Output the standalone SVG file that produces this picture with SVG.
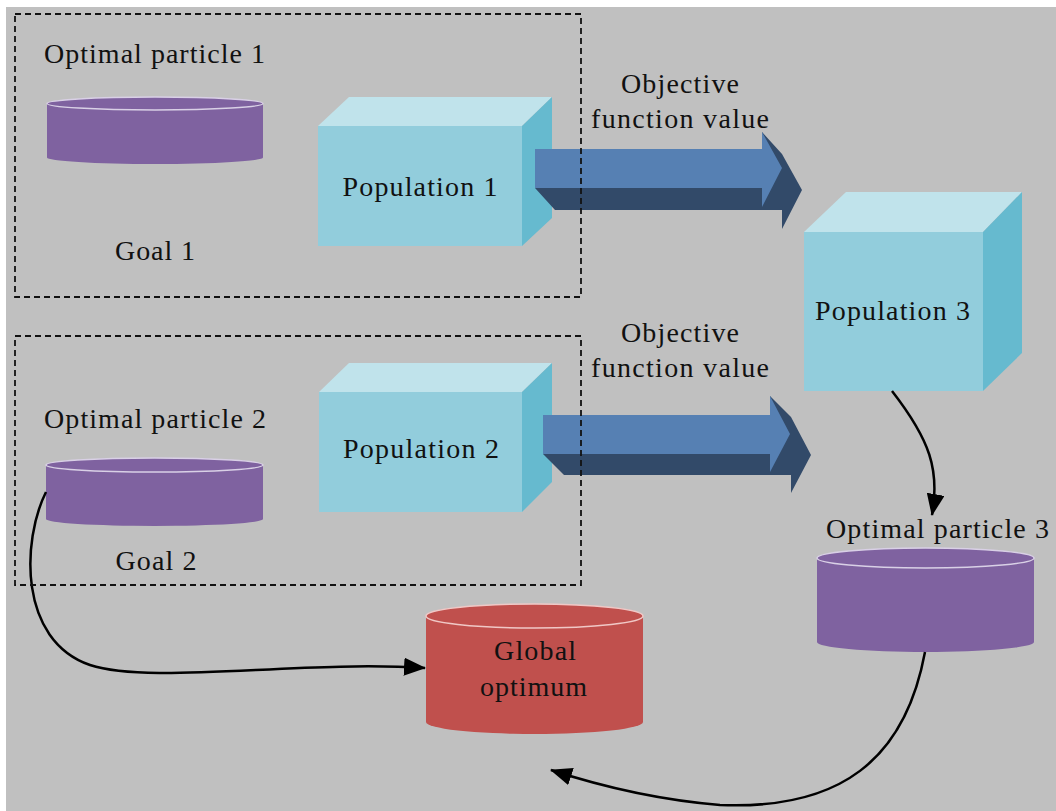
<svg xmlns="http://www.w3.org/2000/svg" width="1056" height="811" viewBox="0 0 1056 811">
<defs>
<style>
.t{font-family:"Liberation Serif","Times New Roman",serif;font-size:28px;fill:#111;text-anchor:middle;}
.front{fill:#92cddc;}
.top{fill:#c0e3eb;}
.side{fill:#66bacf;}
.purple{fill:#7f62a0;}
.red{fill:#c0504d;}
.rim{stroke:#d9d0e6;stroke-width:1.5;}
.rimr{stroke:#f0c8c6;stroke-width:1.5;}
.dash{fill:none;stroke:#111;stroke-width:1.8;stroke-dasharray:6 4;}
.conn{fill:none;stroke:#000;stroke-width:2.5;marker-end:url(#ah);}
.af{fill:#5680b3;}
.ad{fill:#324a69;}
</style>
<marker id="ah" markerUnits="userSpaceOnUse" markerWidth="22" markerHeight="18" viewBox="0 0 22 18" refX="21" refY="9" orient="auto">
<path d="M0,0 L22,9 L0,18 Z" fill="#000"/>
</marker>
</defs>
<rect x="0" y="0" width="1056" height="811" fill="#ffffff"/>
<rect x="6" y="7" width="1050" height="804" fill="#c0c0c0"/>

<g id="optimal1">
<path class="purple" d="M47,103.5 L47,157.5 A108,6.5 0 0 0 263,157.5 L263,103.5 Z"/>
<ellipse class="purple rim" cx="155" cy="103.5" rx="108" ry="6.5"/>
<text class="t" x="154.5" y="63" textLength="221" lengthAdjust="spacing">Optimal particle 1</text>
</g>
<g id="goal1"><text class="t" x="155" y="260" textLength="80" lengthAdjust="spacing">Goal 1</text></g>

<g id="population1">
<rect class="front" x="318" y="126" width="204" height="120"/>
<polygon class="top" points="318,126 349,97 552,97 522,126"/>
<polygon class="side" points="522,126 552,97 552,218 522,246"/>
<text class="t" x="420" y="196" textLength="155" lengthAdjust="spacing">Population 1</text>
</g>

<g id="optimal2">
<path class="purple" d="M46,465 L46,519 A108.5,7 0 0 0 263,519 L263,465 Z"/>
<ellipse class="purple rim" cx="154.5" cy="465" rx="108.5" ry="7"/>
<text class="t" x="155" y="428" textLength="222" lengthAdjust="spacing">Optimal particle 2</text>
</g>
<g id="goal2"><text class="t" x="156" y="570" textLength="81" lengthAdjust="spacing">Goal 2</text></g>

<g id="population2">
<rect class="front" x="319" y="392" width="203" height="120"/>
<polygon class="top" points="319,392 349,363 552,363 522,392"/>
<polygon class="side" points="522,392 552,363 552,482 522,512"/>
<text class="t" x="421" y="458" textLength="156" lengthAdjust="spacing">Population 2</text>
</g>

<g id="population3">
<rect class="front" x="804" y="232" width="179" height="159"/>
<polygon class="top" points="804,232 846,192 1022,192 983,232"/>
<polygon class="side" points="983,232 1022,192 1022,353 983,391"/>
<text class="t" x="892.5" y="320" textLength="155" lengthAdjust="spacing">Population 3</text>
</g>

<g id="optimal3">
<path class="purple" d="M817,558 L817,642 A108.5,10 0 0 0 1034,642 L1034,558 Z"/>
<ellipse class="purple rim" cx="925.5" cy="558" rx="108.5" ry="10"/>
<text class="t" x="937.5" y="538" textLength="223" lengthAdjust="spacing">Optimal particle 3</text>
</g>

<g id="global">
<path class="red" d="M426,616 L426,722 A108.5,12 0 0 0 643,722 L643,616 Z"/>
<ellipse class="red rimr" cx="534.5" cy="616" rx="108.5" ry="12"/>
<text class="t" x="535" y="660" textLength="82" lengthAdjust="spacing">Global</text>
<text class="t" x="533.5" y="696" textLength="107" lengthAdjust="spacing">optimum</text>
</g>

<g id="connectors">
<g id="arrow1">
<polygon class="ad" points="535,188 555,210 782,210 782,229 802,190 782,154 762,132 762,188"/>
<polygon class="af" points="535,149 762,149 762,132 782,168 762,207 762,188 535,188"/>
</g>
<g id="arrow2">
<polygon class="ad" points="543,454 564,475 791,475 791,493 811,455 791,417 770,396 770,454"/>
<polygon class="af" points="543,415 770,415 770,396 790,434 770,472 770,454 543,454"/>
</g>
<path class="conn" d="M892,391 C930,440 940,470 932,515"/>
<path class="conn" d="M46,492 C22,540 18,640 90,665 C150,685 300,660 425,668"/>
<path class="conn" d="M925,652 C905,760 840,810 720,805 C660,800 600,786 551,770"/>
</g>

<g id="labels">
<text class="t" x="680" y="93" textLength="118" lengthAdjust="spacing">Objective</text>
<text class="t" x="680" y="128" textLength="178" lengthAdjust="spacing">function value</text>
<text class="t" x="680" y="342" textLength="118" lengthAdjust="spacing">Objective</text>
<text class="t" x="680" y="377" textLength="178" lengthAdjust="spacing">function value</text>
</g>

<g id="goal-frames">
<rect class="dash" x="15" y="14" width="566" height="283"/>
<rect class="dash" x="15" y="336" width="566" height="249"/>
</g>
</svg>
